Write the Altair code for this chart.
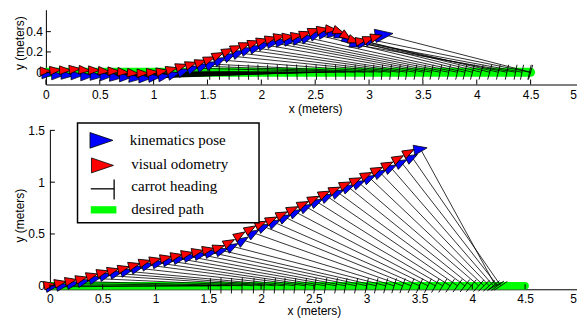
import altair as alt
import pandas as pd
import numpy as np

# ---------------- data ----------------
x_ticks = [0, 0.5, 1, 1.5, 2, 2.5, 3, 3.5, 4, 4.5, 5]
y_ticks_top = [0, 0.2, 0.4]
y_ticks_bot = [0, 0.5, 1, 1.5]

path_x = [0.0, 4.5]
path_y = [0.0, 0.0]

# top panel: kinematics pose (blue)
x_top_kin = [0.02, 0.11, 0.20, 0.29, 0.38, 0.47, 0.56, 0.65, 0.74, 0.83, 0.92, 1.01, 1.10, 1.19, 1.28, 1.37, 1.46, 1.54, 1.62,
             1.71, 1.79, 1.87, 1.95, 2.03, 2.11, 2.19, 2.27, 2.35, 2.43, 2.51, 2.59, 2.67, 2.74, 2.81, 2.88, 2.95, 3.02, 3.14]
y_top_kin = [-0.02, -0.03, -0.03, -0.03, -0.04, -0.04, -0.04, -0.05, -0.05, -0.06, -0.06, -0.05, -0.04, -0.02, 0.01, 0.04, 0.06,
             0.08, 0.12, 0.16, 0.19, 0.22, 0.24, 0.27, 0.29, 0.30, 0.31, 0.32, 0.34, 0.37, 0.38, 0.38, 0.36, 0.31, 0.27, 0.29, 0.32, 0.37]
h_top_kin = [0, 0, -5, 0, 0, -5, 0, -5, 0, -5, 0, 5, 10, 15, 20, 20, 20, 22, 25, 25, 22, 20, 18, 15, 12, 10, 8, 10, 18, 20,
             10, -5, -20, -35, -20, 10, 20, 8]
carrot_top = [1.52, 1.61, 1.70, 1.79, 1.88, 1.97, 2.06, 2.15, 2.24, 2.33, 2.42, 2.51, 2.60, 2.69, 2.78, 2.87, 2.96, 3.04, 3.12,
              3.20, 3.28, 3.35, 3.43, 3.51, 3.58, 3.66, 3.74, 3.82, 3.89, 3.96, 4.04, 4.12, 4.20, 4.28, 4.36, 4.42, 4.49, 4.50]

# top panel: visual odometry (red)
x_top_vo = [0.00, 0.09, 0.18, 0.27, 0.36, 0.45, 0.54, 0.63, 0.72, 0.81, 0.90, 0.99, 1.08, 1.17, 1.26, 1.35, 1.44, 1.52, 1.60,
            1.69, 1.77, 1.85, 1.93, 2.01, 2.09, 2.17, 2.25, 2.33, 2.41, 2.49, 2.57, 2.65, 2.72, 2.79, 2.86, 2.93, 3.00, 3.07]
y_top_vo = [0.01, 0.02, 0.02, 0.03, 0.02, 0.02, 0.01, 0.01, 0.00, -0.01, -0.01, 0.00, 0.01, 0.03, 0.06, 0.08, 0.10, 0.13, 0.17,
            0.21, 0.24, 0.27, 0.29, 0.31, 0.33, 0.35, 0.35, 0.36, 0.38, 0.41, 0.42, 0.42, 0.40, 0.35, 0.31, 0.31, 0.33, 0.35]
h_top_vo = [0, 5, 0, 5, -5, 0, -5, 0, -5, -5, 0, 5, 10, 15, 18, 18, 18, 22, 25, 25, 22, 20, 18, 15, 15, 12, 8, 10, 18, 20,
            10, -5, -20, -35, -20, 10, 20, 15]

# bottom panel: kinematics pose (blue)
x_bot_kin = [0.02, 0.12, 0.22, 0.32, 0.43, 0.53, 0.63, 0.73, 0.83, 0.93, 1.03, 1.13, 1.23, 1.33, 1.43, 1.53, 1.63, 1.73,
             1.83, 1.93, 2.03, 2.13, 2.23, 2.33, 2.43, 2.53, 2.63, 2.73, 2.83, 2.93, 3.03, 3.13, 3.23, 3.33, 3.43, 3.51]
y_bot_kin = [-0.01, 0.00, 0.02, 0.04, 0.07, 0.10, 0.12, 0.14, 0.17, 0.20, 0.22, 0.24, 0.26, 0.28, 0.30, 0.32, 0.34, 0.38,
             0.44, 0.51, 0.57, 0.61, 0.66, 0.71, 0.76, 0.81, 0.86, 0.90, 0.95, 0.99, 1.04, 1.09, 1.14, 1.19, 1.24, 1.32]
h_bot_kin = [10, 10, 12, 14, 15, 15, 14, 14, 15, 15, 13, 12, 12, 12, 12, 12, 18, 28, 32, 30, 25, 25, 25, 25, 25, 25, 25,
             24, 24, 24, 25, 25, 26, 28, 28, 10]
carrot_bot = [1.52, 1.62, 1.72, 1.82, 1.93, 2.03, 2.13, 2.22, 2.32, 2.42, 2.51, 2.61, 2.71, 2.80, 2.90, 3.00, 3.09, 3.18,
              3.26, 3.34, 3.42, 3.50, 3.58, 3.65, 3.72, 3.79, 3.86, 3.93, 3.99, 4.06, 4.11, 4.16, 4.20, 4.24, 4.27, 4.22]

# bottom panel: visual odometry (red)
x_bot_vo = [0.00, 0.10, 0.20, 0.30, 0.40, 0.50, 0.60, 0.70, 0.80, 0.90, 1.00, 1.10, 1.20, 1.30, 1.40, 1.50, 1.60, 1.70,
            1.80, 1.90, 2.00, 2.10, 2.20, 2.30, 2.40, 2.50, 2.60, 2.70, 2.80, 2.90, 3.00, 3.10, 3.20, 3.30, 3.40]
y_bot_vo = [0.01, 0.03, 0.05, 0.07, 0.10, 0.13, 0.15, 0.17, 0.20, 0.23, 0.25, 0.27, 0.29, 0.31, 0.33, 0.35, 0.37, 0.42,
            0.49, 0.55, 0.60, 0.64, 0.69, 0.74, 0.79, 0.84, 0.89, 0.93, 0.98, 1.02, 1.07, 1.12, 1.17, 1.23, 1.29]
h_bot_vo = [10, 12, 12, 14, 15, 15, 14, 14, 15, 15, 13, 12, 12, 12, 12, 12, 18, 28, 32, 30, 25, 25, 25, 25, 25, 25, 25,
            24, 24, 24, 25, 25, 26, 28, 28]

legend_labels = ["kinematics pose", "visual odometry", "carrot heading", "desired path"]

# ---------------- styling ----------------
FONT = "Liberation Sans"
SERIF = "Liberation Serif"
BLUE = "#0000ff"
RED = "#ff0000"
GREEN = "#00ff00"
TRI = "M1,0L-1,-0.75L-1,0.75Z"
LTRI = "M1,0L-1,-0.68L-1,0.68Z"
BAR_HALF = 0.075


def pose_df(xs, ys, hs):
    df = pd.DataFrame({"x": xs, "y": ys, "h": hs})
    df["ang"] = (360 - df["h"]) % 360
    return df


def carrot_df(xs, ys, cs):
    x = np.array(xs, dtype=float)
    y = np.array(ys, dtype=float)
    c = np.array(cs, dtype=float)
    dx = c - x
    dy = -y
    L = np.hypot(dx, dy)
    nx = -dy / L
    ny = dx / L
    return pd.DataFrame({"x": x, "y": y, "cx": c, "cy": np.zeros_like(c),
                         "bx1": c - BAR_HALF * nx, "by1": -BAR_HALF * ny,
                         "bx2": c + BAR_HALF * nx, "by2": BAR_HALF * ny})


def last_label(offset):
    return dict(
        labelAlign={"condition": {"test": "datum.value >= 5", "value": "right"}, "value": "center"},
        labelOffset={"condition": {"test": "datum.value >= 5", "value": offset}, "value": 0},
    )


def make_panel(kin, vo, car, xsc, ysc, yvals, w, h, x_axis_kw, y_axis_kw, big_size, xtick_x0, path_w,
               legend=False):
    xaxis = alt.Axis(values=x_ticks, format="~g", title="x (meters)", ticks=False, grid=False,
                     labelFlush=False, labelOverlap=False, labelFont=FONT,
                     labelFontSize=12, labelColor="black", titleFont=FONT, titleFontSize=12,
                     titleFontWeight="normal", titleColor="black",
                     domainColor="black", domainWidth=1, **x_axis_kw)
    yaxis = alt.Axis(values=yvals, format="~g", title="y (meters)", ticks=False, grid=False,
                     labelFlush=False, labelOverlap=False, labelFont=FONT,
                     labelFontSize=12, labelColor="black", titleFont=FONT, titleFontSize=12,
                     titleFontWeight="normal", titleColor="black",
                     domainColor="black", domainWidth=1, **y_axis_kw)

    def X(f):
        return alt.X(f, type="quantitative", scale=xsc, axis=xaxis)

    def Y(f):
        return alt.Y(f, type="quantitative", scale=ysc, axis=yaxis)

    path = alt.Chart(pd.DataFrame({"x": path_x, "y": path_y})).mark_line(
        color=GREEN, strokeWidth=path_w, strokeCap="round").encode(x=X("x"), y=Y("y"))
    lines = alt.Chart(car).mark_rule(color="black", strokeWidth=0.8).encode(
        x=X("x"), y=Y("y"), x2="cx", y2="cy")
    bars = alt.Chart(car).mark_rule(color="black", strokeWidth=0.9).encode(
        x=X("bx1"), y=Y("by1"), x2="bx2", y2="by2")
    blue = alt.Chart(kin.iloc[:-1]).mark_point(shape=TRI, filled=True, fill=BLUE, stroke="black",
                                              strokeWidth=0.7, opacity=1, size=150).encode(
        x=X("x"), y=Y("y"), angle=alt.Angle("ang:Q", scale=None))
    blue_last = alt.Chart(kin.iloc[-1:]).mark_point(shape=TRI, filled=True, fill=BLUE, stroke="black",
                                                   strokeWidth=0.7, opacity=1, size=big_size).encode(
        x=X("x"), y=Y("y"), angle=alt.Angle("ang:Q", scale=None))
    red = alt.Chart(vo).mark_point(shape=TRI, filled=True, fill=RED, stroke="black",
                                   strokeWidth=0.8, opacity=1, size=135).encode(
        x=X("x"), y=Y("y"), angle=alt.Angle("ang:Q", scale=None))
    xt = alt.Chart(pd.DataFrame({"t": x_ticks})).mark_rule(color="black", strokeWidth=1).encode(
        x=X("t"), y=alt.value(h), y2=alt.value(h - 5))
    yt = alt.Chart(pd.DataFrame({"t": yvals})).mark_rule(color="black", strokeWidth=1).encode(
        y=Y("t"), x=alt.value(xtick_x0), x2=alt.value(xtick_x0 + 5))
    layers = [path, lines, bars, blue, blue_last, red, xt, yt]

    if legend:
        one = pd.DataFrame({"k": [0]})
        box = alt.Chart(one).mark_rect(fill="white", stroke="black", strokeWidth=1.5).encode(
            x=alt.value(31.7), x2=alt.value(213.7), y=alt.value(-7.4), y2=alt.value(92.6))
        lb = alt.Chart(one).mark_point(shape=LTRI, filled=True, fill=BLUE, stroke="black",
                                       strokeWidth=0.8, opacity=1, size=529).encode(
            x=alt.value(55.7), y=alt.value(10))
        lr = alt.Chart(one).mark_point(shape=LTRI, filled=True, fill=RED, stroke="black",
                                       strokeWidth=0.8, opacity=1, size=484).encode(
            x=alt.value(56.7), y=alt.value(35.1))
        lc1 = alt.Chart(one).mark_rule(color="black", strokeWidth=1.3).encode(
            x=alt.value(45), x2=alt.value(68.4), y=alt.value(58.6))
        lc2 = alt.Chart(one).mark_rule(color="black", strokeWidth=1.3).encode(
            x=alt.value(68.4), y=alt.value(49.3), y2=alt.value(69.3))
        lg = alt.Chart(one).mark_rect(fill=GREEN).encode(
            x=alt.value(45), x2=alt.value(70.7), y=alt.value(76), y2=alt.value(83.3))
        layers += [box, lb, lr, lc1, lc2, lg]
        text_pos = [(84, 10), (85.7, 33.3), (85.7, 56), (85.7, 78.6)]
        for lab, (tx, ty) in zip(legend_labels, text_pos):
            layers.append(alt.Chart(pd.DataFrame({"label": [lab]})).mark_text(
                font=SERIF, fontSize=15, color="black", align="left", baseline="middle").encode(
                x=alt.value(tx), y=alt.value(ty), text="label:N"))

    return alt.layer(*layers).properties(width=w, height=h)


top = make_panel(pose_df(x_top_kin, y_top_kin, h_top_kin), pose_df(x_top_vo, y_top_vo, h_top_vo),
                 carrot_df(x_top_kin, y_top_kin, carrot_top),
                 alt.Scale(domain=[0, 5], nice=False, zero=False),
                 alt.Scale(domain=[-0.121, 0.616], nice=False, zero=False),
                 y_ticks_top, 540, 75,
                 dict(labelPadding=5, titleY=19, **last_label(-8)),
                 dict(labelPadding=3.5, titleX=-19.3, titleY=33), 324, 0, 9)

bottom = make_panel(pose_df(x_bot_kin, y_bot_kin, h_bot_kin), pose_df(x_bot_vo, y_bot_vo, h_bot_vo),
                    carrot_df(x_bot_kin, y_bot_kin, carrot_bot),
                    alt.Scale(domain=[0, 5], range=[4, 533.4], nice=False, zero=False),
                    alt.Scale(domain=[-0.0337, 1.5], nice=False, zero=False),
                    y_ticks_bot, 534, 159.3,
                    dict(labelPadding=4, titleY=16.5, **last_label(-1.5)),
                    dict(labelPadding=5.5, titleX=-23.3, titleY=85, offset=-4), 180, 4, 7.5, legend=True)

chart = alt.vconcat(top, bottom, spacing=7).properties(
    padding={"left": 5, "top": 1.3, "right": -8.5, "bottom": 3}
).configure_view(strokeWidth=0)

chart.save("out.html", embed_options={"renderer": "svg", "actions": False})
